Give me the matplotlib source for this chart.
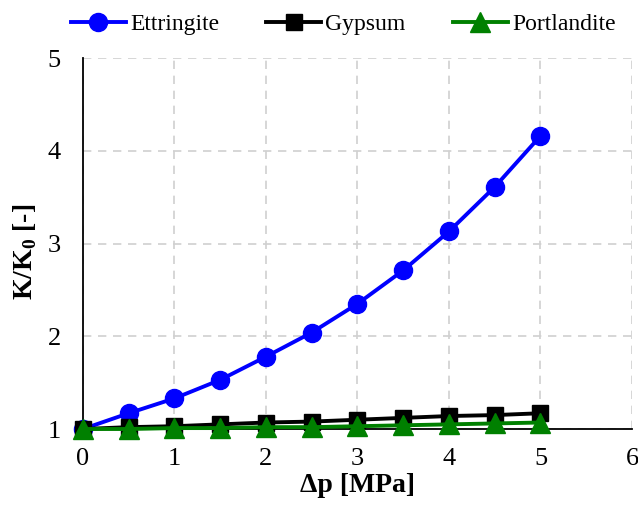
import matplotlib
matplotlib.use("Agg")
import matplotlib.pyplot as plt

dp = [0, 0.5, 1, 1.5, 2, 2.5, 3, 3.5, 4, 4.5, 5]
ettringite = [1.00, 1.17, 1.33, 1.53, 1.78, 2.04, 2.35, 2.71, 3.13, 3.61, 4.16]
gypsum = [1.00, 1.02, 1.03, 1.05, 1.07, 1.08, 1.10, 1.12, 1.14, 1.15, 1.17]
portlandite = [1.00, 1.00, 1.01, 1.01, 1.02, 1.02, 1.03, 1.04, 1.05, 1.06, 1.07]
xticks = [0, 1, 2, 3, 4, 5, 6]
yticks = [1, 2, 3, 4, 5]

plt.rcParams['font.family'] = ['Liberation Serif', 'DejaVu Serif']
plt.rcParams['mathtext.fontset'] = 'custom'
plt.rcParams['mathtext.rm'] = 'Liberation Serif'
plt.rcParams['mathtext.bf'] = 'Liberation Serif:bold'

fig = plt.figure(figsize=(6.38, 5.08), dpi=100)
ax = fig.add_axes([0.130, 0.1555, 0.8606, 0.7303])

ax.plot(dp, ettringite, color='#0000ff', lw=2.8, marker='o', ms=13, label='Ettringite', zorder=3)
ax.plot(dp, gypsum, color='black', lw=2.8, marker='s', ms=11.5, label='Gypsum', zorder=4)
ax.plot(dp, portlandite, color='#008000', lw=2.8, marker='^', ms=14, label='Portlandite', zorder=5)

ax.set_xlim(0, 6)
ax.set_ylim(1, 5)
ax.set_xticks(xticks)
ax.set_yticks(yticks)
ax.tick_params(length=0, labelsize=19)
ax.tick_params(axis='x', pad=14)
ax.tick_params(axis='y', pad=16)
ax.grid(True, color='#d0d0d0', linestyle=(0, (5, 4)), lw=1.2)
ax.set_axisbelow(True)
for s in ['top', 'right']:
    ax.spines[s].set_visible(False)
for s in ['left', 'bottom']:
    ax.spines[s].set_color('black')
    ax.spines[s].set_linewidth(1.3)
for ln in ax.lines:
    ln.set_clip_on(False)

ax.set_xlabel('Δp [MPa]', fontsize=20, fontweight='bold', labelpad=2)
ax.set_ylabel(r'K/K$_\mathbf{0}$ [-]', fontsize=20, fontweight='bold')
ax.yaxis.set_label_coords(-0.080, 0.477)

fig.legend(loc='upper center', bbox_to_anchor=(0.538, 1.015), ncol=3, frameon=False,
           fontsize=17, handlelength=2.33, columnspacing=2.0, handletextpad=0.17)

fig.savefig('out.png', dpi=100)
